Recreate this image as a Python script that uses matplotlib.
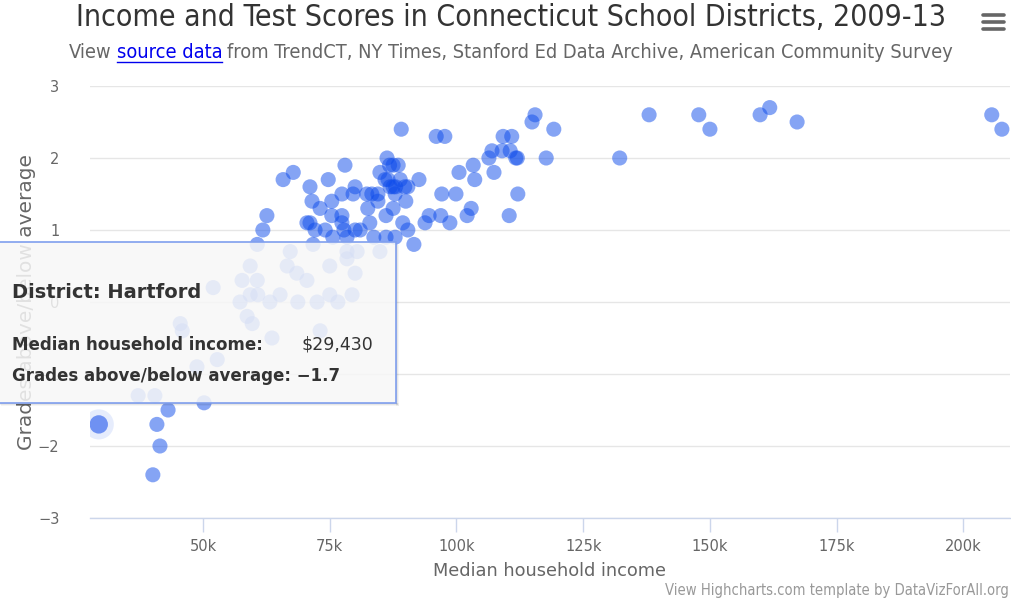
import matplotlib.pyplot as plt
from matplotlib.patches import Rectangle
from matplotlib.lines import Line2D
from matplotlib.ticker import FuncFormatter

# median household income (thousands of $) and grades above/below average
income_k = [205.6, 207.6, 161.8, 159.9, 167.2, 147.8, 150.0, 138.0, 132.2, 119.2,
            117.7, 115.5, 114.9, 111.7, 112.0, 109.2, 110.9, 109.0, 110.6, 107.0,
            106.4, 103.3, 107.4, 103.6, 100.5, 112.1, 110.4, 102.9, 102.1, 99.9,
            97.1, 98.7, 96.9, 94.6, 93.8, 91.6, 92.6, 89.1, 96.0, 97.7,
            86.3, 87.5, 88.5, 84.9, 85.9, 86.5, 86.9, 88.9, 89.8, 90.4,
            83.3, 82.3, 84.5, 87.9, 90.0, 87.5, 84.5, 82.5, 86.1, 82.9,
            89.4, 90.4, 87.9, 86.1, 83.7, 87.5, 88.0, 86.8,
            78.0, 74.7, 71.1, 71.5, 73.1, 75.4, 77.4, 80.0, 79.6, 75.4,
            77.4, 77.4, 77.8, 71.1, 72.1, 74.1, 80.0, 81.0, 75.6, 78.4,
            71.7, 65.8, 67.8, 62.6, 61.8, 60.7, 70.5,
            67.2, 59.3, 66.6, 68.5, 70.5, 57.7, 60.7, 75.0, 78.4, 80.4,
            78.4, 80.0, 84.9, 59.3, 60.8, 63.2, 65.2, 68.7, 72.5, 75.0,
            76.6, 79.4, 57.3, 58.7, 59.7, 52.0, 63.6, 73.1, 45.9, 45.5,
            48.8, 52.8,
            37.2, 40.5, 43.1, 50.2, 40.9, 41.5, 40.1]
grades = [2.6, 2.4, 2.7, 2.6, 2.5, 2.6, 2.4, 2.6, 2.0, 2.4,
          2.0, 2.6, 2.5, 2.0, 2.0, 2.3, 2.3, 2.1, 2.1, 2.1,
          2.0, 1.9, 1.8, 1.7, 1.8, 1.5, 1.2, 1.3, 1.2, 1.5,
          1.5, 1.1, 1.2, 1.2, 1.1, 0.8, 1.7, 2.4, 2.3, 2.3,
          2.0, 1.9, 1.9, 1.8, 1.7, 1.7, 1.6, 1.7, 1.6, 1.6,
          1.5, 1.5, 1.5, 1.5, 1.4, 1.3, 1.4, 1.3, 1.2, 1.1,
          1.1, 1.0, 0.9, 0.9, 0.9, 1.6, 1.6, 1.9,
          1.9, 1.7, 1.6, 1.4, 1.3, 1.4, 1.5, 1.6, 1.5, 1.2,
          1.2, 1.1, 1.0, 1.1, 1.0, 1.0, 1.0, 1.0, 0.9, 0.9,
          0.8, 1.7, 1.8, 1.2, 1.0, 0.8, 1.1,
          0.7, 0.5, 0.5, 0.4, 0.3, 0.3, 0.3, 0.5, 0.7, 0.7,
          0.6, 0.4, 0.7, 0.1, 0.1, 0.0, 0.1, 0.0, 0.0, 0.1,
          0.0, 0.1, 0.0, -0.2, -0.3, 0.2, -0.5, -0.4, -0.4, -0.3,
          -0.9, -0.8,
          -1.3, -1.3, -1.5, -1.4, -1.7, -2.0, -2.4]

hover_name = "Hartford"
hover_income = 29430
hover_grade = -1.7

x_ticks = [50, 75, 100, 125, 150, 175, 200]
y_ticks = [-3, -2, -1, 0, 1, 2, 3]

W, H = 1012, 599
fig = plt.figure(figsize=(W / 100, H / 100), dpi=100)
ax = fig.add_axes([90 / W, 1 - 518 / H, 920 / W, 432 / H])

ax.scatter(income_k, grades, s=118, color="#0d4beb", alpha=0.5, edgecolors="none", zorder=3)
# hovered point with halo
ax.scatter([hover_income / 1000], [hover_grade], s=470, color="#0d4beb", alpha=0.1, edgecolors="none", zorder=4)
ax.scatter([hover_income / 1000], [hover_grade], s=175, color="#6f91f2", edgecolors="none", zorder=5)

ax.set_xlim(27.7, 209.2)
ax.set_ylim(-3, 3)
ax.set_xticks(x_ticks)
ax.set_yticks(y_ticks)
ax.xaxis.set_major_formatter(FuncFormatter(lambda v, p: f"{int(v)}k"))
ax.yaxis.set_major_formatter(FuncFormatter(lambda v, p: f"{int(v)}".replace("-", "\u2212")))
ax.grid(axis="y", color="#e6e6e6", linewidth=1)
ax.set_axisbelow(True)
for s in ["top", "right", "left"]:
    ax.spines[s].set_visible(False)
ax.spines["bottom"].set_color("#ccd6eb")
ax.spines["bottom"].set_linewidth(1)
ax.tick_params(axis="x", colors="#ccd6eb", length=10, width=1, labelcolor="#666666",
               labelsize=10.5, pad=5)
ax.tick_params(axis="y", length=0, labelcolor="#666666", labelsize=10.5, pad=22)
ax.set_xlabel("Median household income", fontsize=12.8, color="#666666", labelpad=6)
ax.set_ylabel("Grades above/below average", fontsize=14.5, color="#666666", labelpad=1)

fig.canvas.draw()
r = fig.canvas.get_renderer()


def fit(t, target):
    # shrink/grow a text so its rendered width matches the target width in pixels
    w = t.get_window_extent(r).width
    t.set_fontsize(t.get_fontsize() * target / w)


# title and subtitle
title = fig.text(511 / W, 1 - 18 / H, "Income and Test Scores in Connecticut School Districts, 2009-13",
                 ha="center", va="center", fontsize=21, color="#333333", fontstretch="condensed")
fit(title, 868)

sub_y = 1 - 53 / H
pieces = [("View", "#666666"), ("source data", "#0000ee"),
          ("from TrendCT, NY Times, Stanford Ed Data Archive, American Community Survey", "#666666")]
txts = [fig.text(0, sub_y, p, color=c, fontsize=13, fontstretch="condensed", va="center", ha="left")
        for p, c in pieces]
gap = 5
scale = (882 - 2 * gap) / sum(t.get_window_extent(r).width for t in txts)
for t in txts:
    t.set_fontsize(13 * scale)
widths = [t.get_window_extent(r).width for t in txts]
total = sum(widths) + gap * (len(widths) - 1)
x = 511 - total / 2
for t, w in zip(txts, widths):
    t.set_x(x / W)
    if t.get_text() == "source data":
        fig.add_artist(Line2D([x / W, (x + w) / W], [1 - 62 / H, 1 - 62 / H],
                              color="#0000ee", linewidth=1, transform=fig.transFigure))
    x += w + gap

# menu icon
for yy in [15, 22, 29]:
    fig.add_artist(Line2D([983 / W, 1004 / W], [1 - yy / H, 1 - yy / H], color="#666666",
                          linewidth=2.6, solid_capstyle="round", transform=fig.transFigure))

credit = fig.text(1009 / W, 1 - 590 / H, "View Highcharts.com template by DataVizForAll.org",
                  ha="right", va="center", fontsize=10, color="#999999", fontstretch="condensed")
fit(credit, 345)

# tooltip
tx0, tx1, ty0, ty1 = -2, 396, 242, 403
bw, bh = (tx1 - tx0) / W, (ty1 - ty0) / H
for k, a in [(3, 0.04), (2, 0.06), (1, 0.08)]:
    # shadow strips along the right and bottom edges
    fig.add_artist(Rectangle(((tx0 + k) / W, 1 - (ty1 + k) / H), bw, k / H,
                             transform=fig.transFigure, facecolor="black", alpha=a,
                             edgecolor="none", zorder=20))
    fig.add_artist(Rectangle((tx1 / W, 1 - (ty1 + k) / H), k / W, bh,
                             transform=fig.transFigure, facecolor="black", alpha=a,
                             edgecolor="none", zorder=20))
fig.add_artist(Rectangle((tx0 / W, 1 - ty1 / H), bw, bh,
                         transform=fig.transFigure, facecolor="#f7f7f7", alpha=0.85,
                         edgecolor="none", zorder=21))
fig.add_artist(Rectangle((tx0 / W, 1 - ty1 / H), bw, bh,
                         transform=fig.transFigure, facecolor="none",
                         edgecolor="#7f9fee", linewidth=1.2, zorder=22))
fig.text(12 / W, 1 - 293 / H, f"District: {hover_name}", fontsize=14, fontweight="bold",
         color="#333333", va="center", zorder=23)
fig.text(12 / W, 1 - 345 / H, "Median household income:", fontsize=12, fontweight="bold",
         color="#333333", va="center", zorder=23)
fig.text(302 / W, 1 - 345 / H, f"${hover_income:,}", fontsize=12.5,
         color="#333333", va="center", zorder=23)
fig.text(12 / W, 1 - 376 / H, f"Grades above/below average: {hover_grade}".replace("-1", "\u22121"),
         fontsize=12, fontweight="bold", color="#333333", va="center", zorder=23)

fig.savefig("out.png", dpi=100)
